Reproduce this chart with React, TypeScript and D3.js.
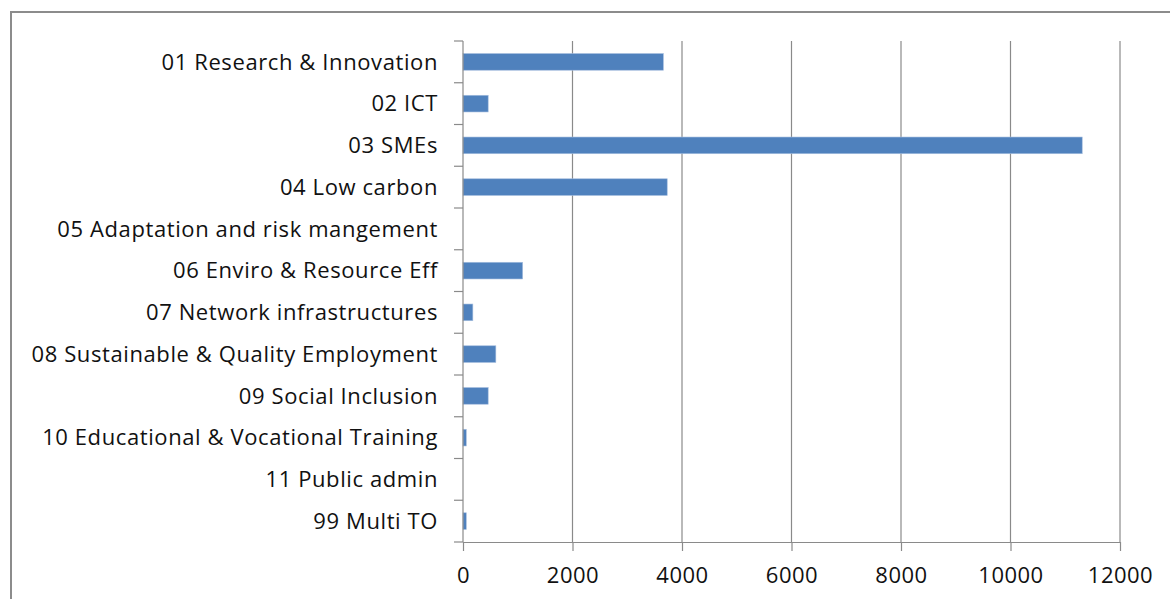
import { useEffect, useRef } from "react"
import * as d3 from "d3"

const categories = [
  "01 Research & Innovation",
  "02 ICT",
  "03 SMEs",
  "04 Low carbon",
  "05 Adaptation and risk mangement",
  "06 Enviro & Resource Eff",
  "07 Network infrastructures",
  "08 Sustainable & Quality Employment",
  "09 Social Inclusion",
  "10 Educational & Vocational Training",
  "11 Public admin",
  "99 Multi TO",
]
const values = [3660, 460, 11310, 3730, 0, 1090, 180, 600, 460, 60, 0, 60]
const xTicks = [0, 2000, 4000, 6000, 8000, 10000, 12000]

export default function App() {
  const svgRef = useRef<SVGSVGElement>(null)

  useEffect(() => {
    const width = 1170,
      height = 599
    const margin = { top: 41, right: 50, bottom: 57, left: 463 }
    const wt = width - margin.left - margin.right,
      ht = height - margin.top - margin.bottom

    d3.select(svgRef.current).selectAll("*").remove()
    const root = d3.select(svgRef.current).attr("width", width).attr("height", height)

    // outer chart border (only top & left visible in the crop)
    root.append("path")
      .attr("d", `M11,${height} V12 H${width}`)
      .attr("fill", "none")
      .attr("stroke", "#8c8c8c")
      .attr("stroke-width", 2)

    const svg = root.append("g").attr("transform", `translate(${margin.left},${margin.top})`)

    const x = d3.scaleLinear().domain([0, 12000]).range([0, wt])
    const y = d3.scaleBand().domain(categories).range([0, ht]).paddingInner(0.6).paddingOuter(0.3)

    const font = "'Open Sans', sans-serif"

    // vertical gridlines
    svg.append("g")
      .selectAll("line")
      .data(xTicks.slice(1))
      .join("line")
      .attr("x1", d => x(d))
      .attr("x2", d => x(d))
      .attr("y1", 0)
      .attr("y2", ht)
      .attr("stroke", "#8a8a8a")
      .attr("stroke-width", 1.2)

    // bars
    svg.selectAll("rect.bar")
      .data(values)
      .join("rect")
      .attr("class", "bar")
      .attr("x", 0)
      .attr("y", (d, i) => y(categories[i])!)
      .attr("width", d => x(d))
      .attr("height", y.bandwidth())
      .attr("fill", "#4f81bd")
      .attr("stroke", d => (d > 0 ? "#a7bfdf" : "none"))
      .attr("stroke-width", 0.6)

    // x axis
    const xAxis = svg.append("g")
      .attr("transform", `translate(0,${ht})`)
      .call(d3.axisBottom(x).tickValues(xTicks).tickFormat(d3.format("d")).tickSize(9).tickSizeOuter(0).tickPadding(16))
    xAxis.select(".domain").attr("stroke", "#8a8a8a").attr("stroke-width", 1.2)
    xAxis.selectAll(".tick line").attr("stroke", "#8a8a8a").attr("stroke-width", 1.2)
    xAxis.selectAll(".tick text")
      .attr("font-family", font)
      .attr("font-size", 22)
      .attr("letter-spacing", 0.5)
      .attr("fill", "#111")

    // y axis with ticks between categories
    const step = y.step()
    const y0 = y(categories[0])! - (step - y.bandwidth()) / 2
    svg.append("line")
      .attr("x1", 0).attr("x2", 0).attr("y1", 0).attr("y2", ht)
      .attr("stroke", "#8a8a8a").attr("stroke-width", 1.2)
    svg.append("g")
      .selectAll("line")
      .data(d3.range(categories.length + 1))
      .join("line")
      .attr("x1", -9)
      .attr("x2", 0)
      .attr("y1", i => y0 + i * step)
      .attr("y2", i => y0 + i * step)
      .attr("stroke", "#8a8a8a")
      .attr("stroke-width", 1.2)

    // category labels
    svg.append("g")
      .selectAll("text")
      .data(categories)
      .join("text")
      .attr("x", -25)
      .attr("y", d => y(d)! + y.bandwidth() / 2)
      .attr("dy", "0.35em")
      .attr("text-anchor", "end")
      .attr("font-family", font)
      .attr("font-size", 22)
      .attr("letter-spacing", 0.6)
      .attr("fill", "#111")
      .text(d => d)
  }, [])

  return (
    <svg ref={svgRef} style={{ position: "absolute", left: 0, top: 0, background: "#fff" }}></svg>
  )
}
